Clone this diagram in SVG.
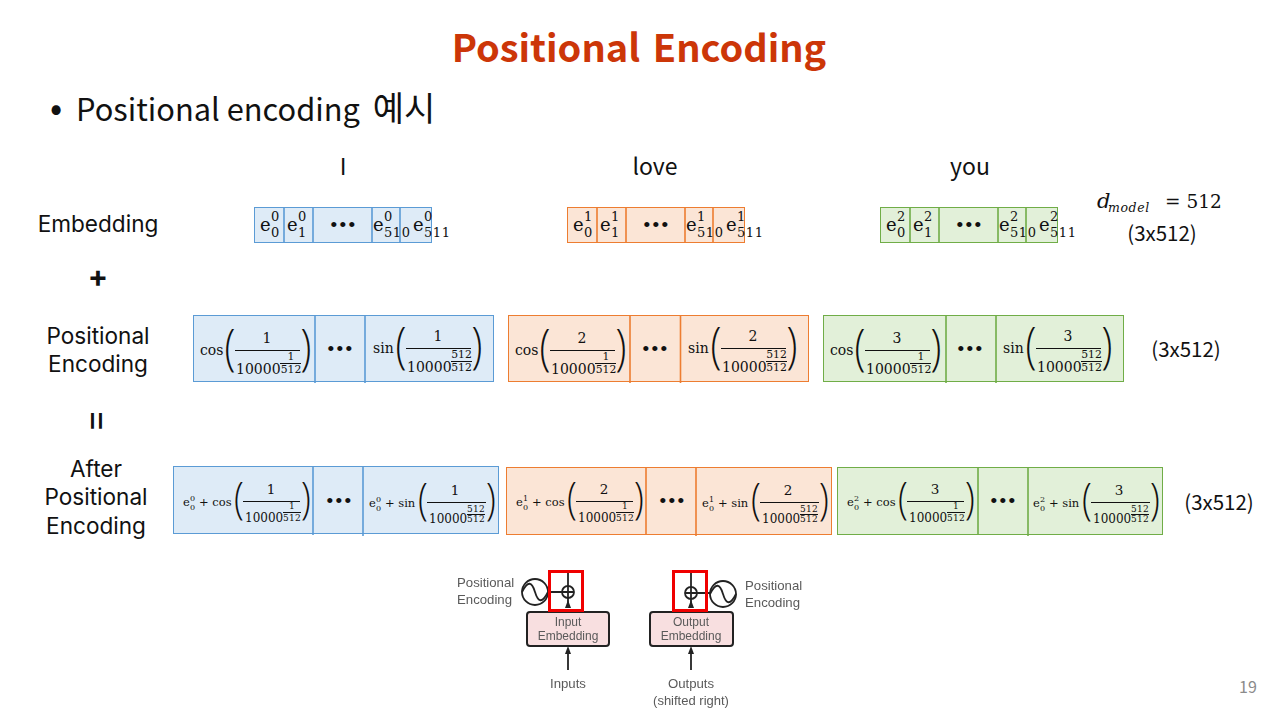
<svg xmlns="http://www.w3.org/2000/svg" width="1280" height="720" viewBox="0 0 1280 720">
<defs>
<style>
text{font-family:"Noto Sans CJK KR","Noto Sans",sans-serif;fill:#111}
.t{font-size:23px;text-anchor:middle}
.rl{font-family:Inter,"Noto Sans",sans-serif;font-size:22.600px;text-anchor:middle}
.u{font-size:20.500px;text-anchor:middle}
.m{font-family:"DejaVu Serif",serif;fill:#111}
.c{text-anchor:middle}
.e{font-size:18px}
.s{font-size:13px;font-family:"DejaVu Serif",serif;letter-spacing:.6px}
.f{font-size:14px}
.x{font-size:10.800px;font-family:"DejaVu Serif",serif}
.p{font-family:"Open Sans",sans-serif;font-weight:300;font-size:50px}
.p2{font-family:"Open Sans",sans-serif;font-weight:300;font-size:45px}
.a{font-size:13.500px}
.a2{font-size:12px}
.a3{font-size:11.500px}
.x2{font-size:9px;font-family:"DejaVu Serif",serif;letter-spacing:.3px}
.es{font-size:8px;font-family:"DejaVu Serif",serif}
.d{font-family:"Liberation Sans",sans-serif;font-size:19px;letter-spacing:2.4px;text-anchor:middle}
.l{stroke:#111;stroke-width:1;fill:none}
.blue .b{fill:#deebf7;stroke:#5b9bd5;stroke-width:1}
.blue .v{stroke:#5b9bd5;stroke-width:1.6}
.orange .b{fill:#fbe5d6;stroke:#ed7d31;stroke-width:1}
.orange .v{stroke:#ed7d31;stroke-width:1.6}
.green .b{fill:#e2f0d9;stroke:#70ad47;stroke-width:1}
.green .v{stroke:#70ad47;stroke-width:1.6}
.g{font-family:"Liberation Sans",sans-serif;fill:#5a5a5a;font-size:13.200px}
.gc{text-anchor:middle}
.k{stroke:#222;stroke-width:1.8;fill:none}
.r{fill:none;stroke:#f00000;stroke-width:3}
.bx{fill:#f8dfe0;stroke:#222;stroke-width:2}
.h{fill:#222;stroke:none}
</style>
<filter id="soft" x="-5%" y="-5%" width="110%" height="110%"><feGaussianBlur stdDeviation="0.45"/></filter>
</defs>
<rect width="1280" height="720" fill="#fff"/>

<g id="title"><text x="639" y="62" text-anchor="middle" font-size="38" font-weight="700" word-spacing="4" style="fill:#cc3608">Positional Encoding</text></g>
<g id="bullet"><text x="50" y="121" font-size="36">•</text><text x="76" y="121" font-size="30.800">Positional encoding <tspan font-size="34" dx="6">예시</tspan></text></g>

<g id="words">
<text class="t" x="343" y="175">I</text>
<text class="t" x="655" y="175">love</text>
<text class="t" x="970" y="175">you</text>
</g>
<g id="row-labels">
<text class="rl" x="98" y="232">Embedding</text>
<text class="rl" x="98" y="286.500" font-weight="700" style="font-size:30px">+</text>
<text class="rl" x="98" y="344">Positional</text>
<text class="rl" x="98" y="372">Encoding</text>
<text class="rl" transform="translate(85.500,421) rotate(90)" style="font-size:36px" x="0" y="0">=</text>
<text class="rl" x="96" y="477">After</text>
<text class="rl" x="96" y="505">Positional</text>
<text class="rl" x="96" y="534">Encoding</text>
</g>
<g id="dims">
<text class="m" x="1097" y="208" font-size="21" font-style="italic">d</text>
<text class="m" x="1108" y="212" font-size="12.500" font-style="italic" letter-spacing=".6">model</text>
<text class="m" x="1165" y="208" font-size="18.500">= 512</text>
<text class="u" x="1162" y="241">(3x512)</text>
<text class="u" x="1186" y="357">(3x512)</text>
<text class="u" x="1219" y="510">(3x512)</text>
</g>

<g id="embedding-I" class="blue">
<rect class="b" x="254.500" y="207.500" width="177" height="35"/>
<path class="v" d="M284 207V243M313 207V243M372 207V243M400 207V243"/>
<text class="m e" x="260" y="231">e</text><text class="s" x="271" y="221">0</text><text class="s" x="271" y="237">0</text>
<text class="m e" x="287" y="231">e</text><text class="s" x="298" y="221">0</text><text class="s" x="298" y="237">1</text>
<text class="d" x="344" y="231">•••</text>
<text class="m e" x="373" y="231">e</text><text class="s" x="384" y="221">0</text><text class="s" x="384" y="237">510</text>
<text class="m e" x="413" y="231">e</text><text class="s" x="424" y="221">0</text><text class="s" x="424" y="237">511</text>
</g>
<g id="embedding-love" class="orange" transform="translate(313,0)">
<rect class="b" x="254.500" y="207.500" width="177" height="35"/>
<path class="v" d="M284 207V243M313 207V243M372 207V243M400 207V243"/>
<text class="m e" x="260" y="231">e</text><text class="s" x="271" y="221">1</text><text class="s" x="271" y="237">0</text>
<text class="m e" x="287" y="231">e</text><text class="s" x="298" y="221">1</text><text class="s" x="298" y="237">1</text>
<text class="d" x="344" y="231">•••</text>
<text class="m e" x="373" y="231">e</text><text class="s" x="384" y="221">1</text><text class="s" x="384" y="237">510</text>
<text class="m e" x="413" y="231">e</text><text class="s" x="424" y="221">1</text><text class="s" x="424" y="237">511</text>
</g>
<g id="embedding-you" class="green" transform="translate(626,0)">
<rect class="b" x="254.500" y="207.500" width="177" height="35"/>
<path class="v" d="M284 207V243M313 207V243M372 207V243M400 207V243"/>
<text class="m e" x="260" y="231">e</text><text class="s" x="271" y="221">2</text><text class="s" x="271" y="237">0</text>
<text class="m e" x="287" y="231">e</text><text class="s" x="298" y="221">2</text><text class="s" x="298" y="237">1</text>
<text class="d" x="344" y="231">•••</text>
<text class="m e" x="373" y="231">e</text><text class="s" x="384" y="221">2</text><text class="s" x="384" y="237">510</text>
<text class="m e" x="413" y="231">e</text><text class="s" x="424" y="221">2</text><text class="s" x="424" y="237">511</text>
</g>

<g id="pe-I" class="blue">
<rect class="b" x="193.500" y="315.500" width="300" height="66"/>
<path class="v" d="M315 315V383M365 315V383"/>
<text class="m f" x="200" y="355">cos</text>
<text class="p c" transform="translate(230,365) scale(.8,1)">(</text>
<path class="l" d="M235 350.500H300M280 363.500H301"/>
<text class="m f c" x="267" y="343">1</text>
<text class="m f" x="236" y="374">10000</text>
<text class="x c" x="291" y="360">1</text><text class="x c" x="291" y="373">512</text>
<text class="p c" transform="translate(306,365) scale(.8,1)">)</text>
<text class="d" x="341" y="355">•••</text>
<text class="m f" x="373" y="353">sin</text>
<text class="p c" transform="translate(401,363) scale(.8,1)">(</text>
<path class="l" d="M406 348.500H471M451 361.500H472"/>
<text class="m f c" x="438" y="341">1</text>
<text class="m f" x="407" y="372">10000</text>
<text class="x c" x="461.500" y="358">512</text><text class="x c" x="461.500" y="371">512</text>
<text class="p c" transform="translate(477,363) scale(.8,1)">)</text>
</g>
<g id="pe-love" class="orange" transform="translate(315,0)">
<rect class="b" x="193.500" y="315.500" width="300" height="66"/>
<path class="v" d="M315 315V383M365.500 315V383"/>
<text class="m f" x="200" y="355">cos</text>
<text class="p c" transform="translate(230,365) scale(.8,1)">(</text>
<path class="l" d="M235 350.500H300M280 363.500H301"/>
<text class="m f c" x="267" y="343">2</text>
<text class="m f" x="236" y="374">10000</text>
<text class="x c" x="291" y="360">1</text><text class="x c" x="291" y="373">512</text>
<text class="p c" transform="translate(306,365) scale(.8,1)">)</text>
<text class="d" x="341" y="355">•••</text>
<text class="m f" x="373" y="353">sin</text>
<text class="p c" transform="translate(401,363) scale(.8,1)">(</text>
<path class="l" d="M406 348.500H471M451 361.500H472"/>
<text class="m f c" x="438" y="341">2</text>
<text class="m f" x="407" y="372">10000</text>
<text class="x c" x="461.500" y="358">512</text><text class="x c" x="461.500" y="371">512</text>
<text class="p c" transform="translate(477,363) scale(.8,1)">)</text>
</g>
<g id="pe-you" class="green" transform="translate(630,0)">
<rect class="b" x="193.500" y="315.500" width="300" height="66"/>
<path class="v" d="M316 315V383M366 315V383"/>
<text class="m f" x="200" y="355">cos</text>
<text class="p c" transform="translate(230,365) scale(.8,1)">(</text>
<path class="l" d="M235 350.500H300M280 363.500H301"/>
<text class="m f c" x="267" y="343">3</text>
<text class="m f" x="236" y="374">10000</text>
<text class="x c" x="291" y="360">1</text><text class="x c" x="291" y="373">512</text>
<text class="p c" transform="translate(306,365) scale(.8,1)">)</text>
<text class="d" x="341" y="355">•••</text>
<text class="m f" x="373" y="353">sin</text>
<text class="p c" transform="translate(401,363) scale(.8,1)">(</text>
<path class="l" d="M406 348.500H471M451 361.500H472"/>
<text class="m f c" x="438" y="341">3</text>
<text class="m f" x="407" y="372">10000</text>
<text class="x c" x="461.500" y="358">512</text><text class="x c" x="461.500" y="371">512</text>
<text class="p c" transform="translate(477,363) scale(.8,1)">)</text>
</g>

<g id="after-I" class="blue">
<rect class="b" x="173.500" y="466.500" width="325" height="67"/>
<path class="v" d="M313 466V535M363 466V536"/>
<text class="m a3" x="183" y="506">e</text><text class="es" x="190" y="501">0</text><text class="es" x="190" y="510">0</text>
<text class="m a3" x="199" y="506">+ cos</text>
<text class="p2 c" transform="translate(239,514) scale(.8,1)">(</text>
<path class="l" d="M243 501.500H300M283 512.500H301"/>
<text class="m a c" x="271" y="494">1</text>
<text class="m a2" x="245" y="522">10000</text>
<text class="x2 c" x="292" y="509">1</text><text class="x2 c" x="292" y="520.500">512</text>
<text class="p2 c" transform="translate(306,514) scale(.8,1)">)</text>
<text class="d" x="340" y="507">•••</text>
<text class="m a3" x="369" y="507">e</text><text class="es" x="376" y="502">0</text><text class="es" x="376" y="511">0</text>
<text class="m a3" x="385" y="507">+ sin</text>
<text class="p2 c" transform="translate(423,515) scale(.8,1)">(</text>
<path class="l" d="M427 502.500H486M467 514.500H485"/>
<text class="m a c" x="455" y="495">1</text>
<text class="m a2" x="429" y="523">10000</text>
<text class="x2 c" x="476" y="511.500">512</text><text class="x2 c" x="476" y="522">512</text>
<text class="p2 c" transform="translate(491,515) scale(.8,1)">)</text>
</g>
<g id="after-love" class="orange" transform="translate(333,0)">
<rect class="b" x="173.500" y="467.500" width="325" height="67"/>
<path class="v" d="M313 467V535M363 467V536"/>
<text class="m a3" x="183" y="506">e</text><text class="es" x="190" y="501">1</text><text class="es" x="190" y="510">0</text>
<text class="m a3" x="199" y="506">+ cos</text>
<text class="p2 c" transform="translate(239,514) scale(.8,1)">(</text>
<path class="l" d="M243 501.500H300M283 512.500H301"/>
<text class="m a c" x="271" y="494">2</text>
<text class="m a2" x="245" y="522">10000</text>
<text class="x2 c" x="292" y="509">1</text><text class="x2 c" x="292" y="520.500">512</text>
<text class="p2 c" transform="translate(306,514) scale(.8,1)">)</text>
<text class="d" x="340" y="507">•••</text>
<text class="m a3" x="369" y="507">e</text><text class="es" x="376" y="502">1</text><text class="es" x="376" y="511">0</text>
<text class="m a3" x="385" y="507">+ sin</text>
<text class="p2 c" transform="translate(423,515) scale(.8,1)">(</text>
<path class="l" d="M427 502.500H486M467 514.500H485"/>
<text class="m a c" x="455" y="495">2</text>
<text class="m a2" x="429" y="523">10000</text>
<text class="x2 c" x="476" y="511.500">512</text><text class="x2 c" x="476" y="522">512</text>
<text class="p2 c" transform="translate(491,515) scale(.8,1)">)</text>
</g>
<g id="after-you" class="green" transform="translate(664,0)">
<rect class="b" x="173.500" y="467.500" width="325" height="67"/>
<path class="v" d="M314 467V535M364 467V536"/>
<text class="m a3" x="183" y="506">e</text><text class="es" x="190" y="501">2</text><text class="es" x="190" y="510">0</text>
<text class="m a3" x="199" y="506">+ cos</text>
<text class="p2 c" transform="translate(239,514) scale(.8,1)">(</text>
<path class="l" d="M243 501.500H300M283 512.500H301"/>
<text class="m a c" x="271" y="494">3</text>
<text class="m a2" x="245" y="522">10000</text>
<text class="x2 c" x="292" y="509">1</text><text class="x2 c" x="292" y="520.500">512</text>
<text class="p2 c" transform="translate(306,514) scale(.8,1)">)</text>
<text class="d" x="340" y="507">•••</text>
<text class="m a3" x="369" y="507">e</text><text class="es" x="376" y="502">2</text><text class="es" x="376" y="511">0</text>
<text class="m a3" x="385" y="507">+ sin</text>
<text class="p2 c" transform="translate(423,515) scale(.8,1)">(</text>
<path class="l" d="M427 502.500H486M467 514.500H485"/>
<text class="m a c" x="455" y="495">3</text>
<text class="m a2" x="429" y="523">10000</text>
<text class="x2 c" x="476" y="511.500">512</text><text class="x2 c" x="476" y="522">512</text>
<text class="p2 c" transform="translate(491,515) scale(.8,1)">)</text>
</g>

<g filter="url(#soft)">
<g id="connectors">
<path class="k" d="M568 571V586M568 598V606M568 670V652M548 592H562M691 571V587M691 599V606M691 670V652M697 593H710"/>
<path class="h" d="M568 600l-3 8h6zM568 646l-3 8h6zM691 600l-3 8h6zM691 646l-3 8h6z"/>
</g>
<g id="input-embedding">
<rect class="bx" x="527" y="612" width="82" height="34" rx="3"/>
<text class="g gc" x="568" y="626" style="font-size:12px">Input</text>
<text class="g gc" x="568" y="640" style="font-size:12px">Embedding</text>
</g>
<g id="output-embedding">
<rect class="bx" x="650" y="612" width="83" height="34" rx="3"/>
<text class="g gc" x="691" y="626" style="font-size:12px">Output</text>
<text class="g gc" x="691" y="640" style="font-size:12px">Embedding</text>
</g>
<g id="input-pe">
<circle class="k" cx="535" cy="592" r="13"/><path class="k" stroke-width="1.2" d="M522 592C528 580 532 582 535 592S542 604 548 592"/>
<circle class="k" cx="568" cy="592" r="6"/><path class="k" d="M562 592H574M568 586V598"/>
<text class="g" x="457" y="587">Positional</text><text class="g" x="457" y="604">Encoding</text>
</g>
<g id="output-pe">
<circle class="k" cx="723" cy="594" r="13"/><path class="k" stroke-width="1.2" d="M710 594C716 582 720 584 723 594S730 606 736 594"/>
<circle class="k" cx="691" cy="593" r="6"/><path class="k" d="M685 593H697M691 587V599"/>
<text class="g" x="745" y="590">Positional</text><text class="g" x="745" y="607">Encoding</text>
</g>
<g id="inputs"><text class="g gc" x="568" y="688">Inputs</text></g>
<g id="outputs"><text class="g gc" x="691" y="688">Outputs</text><text class="g gc" x="691" y="705" style="font-size:13px">(shifted right)</text></g>
</g>
<g id="highlights">
<rect class="r" x="549.500" y="571.500" width="33" height="39"/>
<rect class="r" x="673.500" y="571.500" width="33" height="39"/>
</g>
<g id="page"><text x="1239" y="693" font-size="16" style="fill:#8b8b8b">19</text></g>
</svg>
